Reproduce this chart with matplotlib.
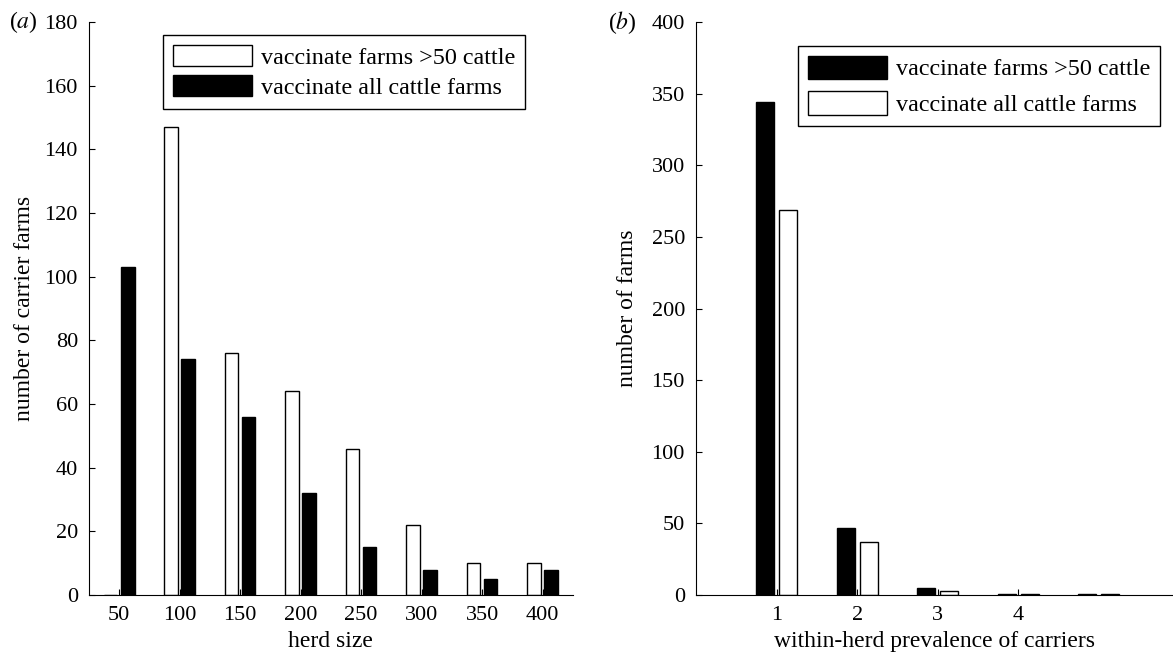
import numpy as np
import matplotlib.pyplot as plt

plt.rcParams['font.family'] = ['Liberation Serif', 'DejaVu Serif']
plt.rcParams['mathtext.fontset'] = 'stix'
plt.rcParams['font.size'] = 16

# panel (a): carrier farms by herd size
herd_size = [50, 100, 150, 200, 250, 300, 350, 400]
over50 = [0, 147, 76, 64, 46, 22, 10, 10]
all_farms = [103, 74, 56, 32, 15, 8, 5, 8]

# panel (b): within-herd prevalence of carriers
prevalence = [1, 2, 3, 4, 5]
prev_over50 = [344, 47, 5, 1, 0.5]
prev_all = [269, 37, 3, 1, 0.5]
prev_ticks = [1, 2, 3, 4]

fig = plt.figure(figsize=(11.73, 6.55), dpi=100)
ax1 = fig.add_axes([0.0759, 0.0916, 0.4124, 0.8748])
ax2 = fig.add_axes([0.5934, 0.0916, 0.4066, 0.8748])

x = np.array(herd_size)
ax1.bar(x - 7.2, over50, width=11.3, color='white', edgecolor='black', linewidth=1, label='vaccinate farms >50 cattle')
ax1.bar(x + 7.0, all_farms, width=11.3, color='black', edgecolor='black', linewidth=1, label='vaccinate all cattle farms')
ax1.set_xlim(25, 425)
ax1.set_ylim(0, 180)
ax1.set_xticks(herd_size)
ax1.set_yticks(range(0, 181, 20))
ax1.set_xlabel('herd size', fontsize=17, labelpad=4)
ax1.set_ylabel('number of carrier farms', fontsize=17, labelpad=7)

p = np.array(prevalence)
ax2.bar(p - 0.143, prev_over50, width=0.225, color='black', edgecolor='black', linewidth=1, label='vaccinate farms >50 cattle')
ax2.bar(p + 0.143, prev_all, width=0.225, color='white', edgecolor='black', linewidth=1, label='vaccinate all cattle farms')
ax2.set_xlim(0, 5.92)
ax2.set_ylim(0, 400)
ax2.set_xticks(prev_ticks)
ax2.set_yticks(range(0, 401, 50))
ax2.set_xlabel('within-herd prevalence of carriers', fontsize=17, labelpad=4)
ax2.set_ylabel('number of farms', fontsize=17, labelpad=10)

for ax in (ax1, ax2):
    ax.spines['top'].set_visible(False)
    ax.spines['right'].set_visible(False)
    ax.tick_params(direction='in', length=4, pad=8)

leg_kw = dict(loc='upper left', bbox_transform=fig.transFigure, borderaxespad=0, fancybox=False,
              edgecolor='black', framealpha=1, fontsize=17.4, handlelength=3.3,
              handletextpad=0.34, borderpad=0.4)
ax1.legend(bbox_to_anchor=(0.139, 0.9466), handleheight=1.0, labelspacing=0.25,
           **leg_kw).get_frame().set_linewidth(1)
ax2.legend(bbox_to_anchor=(0.6803, 0.9298), handleheight=1.1, labelspacing=0.45,
           **leg_kw).get_frame().set_linewidth(1)

fig.text(0.008, 0.966, '($\\it{a}$)', fontsize=17, va='center')
fig.text(0.518, 0.966, '($\\it{b}$)', fontsize=17, va='center')

fig.savefig('out.png', dpi=100)
